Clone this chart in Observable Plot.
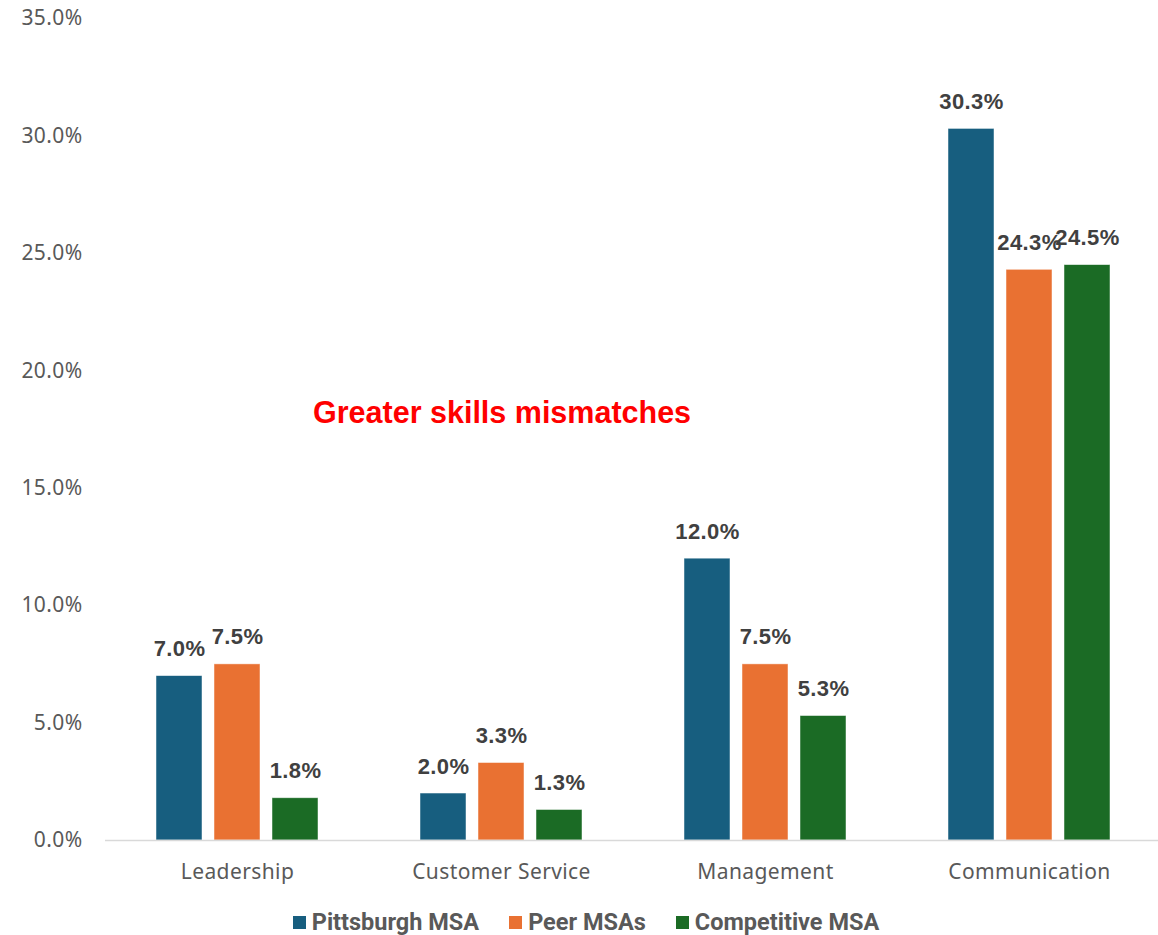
<!DOCTYPE html>
<html>
<head>
<meta charset="utf-8">
<script src="https://cdn.jsdelivr.net/npm/d3@7"></script>
<script src="https://cdn.jsdelivr.net/npm/@observablehq/plot@0.6"></script>
<style>
  html, body { margin: 0; padding: 0; background: #fff; }
  #wrap { position: relative; width: 1158px; height: 935px; overflow: hidden; }
  #note { position: absolute; left: 313px; top: 395px; font: bold 30.5px "Liberation Sans", Arial, sans-serif; color: #ff0000; white-space: nowrap; }
  #legend { position: absolute; left: 0; width: 1158px; top: 908px; display: flex; justify-content: center; gap: 30px; font: bold 23.5px "Roboto", "Liberation Sans", sans-serif; color: #595959; padding-left: 14px; box-sizing: border-box; }
  #legend .item { display: flex; align-items: center; gap: 6px; }
  #legend .sw { width: 13px; height: 13px; display: inline-block; }
</style>
</head>
<body>
<div id="wrap">
  <div id="chart"></div>
  <div id="note">Greater skills mismatches</div>
  <div id="legend"></div>
</div>
<script>
const categories = ["Leadership", "Customer Service", "Management", "Communication"];
const seriesNames = ["Pittsburgh MSA", "Peer MSAs", "Competitive MSA"];
const colors = ["#175E7F", "#E97132", "#1B6B25"];
const pittsburgh = [0.070, 0.020, 0.120, 0.303];
const peer = [0.075, 0.033, 0.075, 0.243];
const competitive = [0.018, 0.013, 0.053, 0.245];
const yTicks = [0, 0.05, 0.10, 0.15, 0.20, 0.25, 0.30, 0.35];

const seriesValues = [pittsburgh, peer, competitive];
const data = [];
categories.forEach((c, i) => {
  seriesNames.forEach((s, j) => data.push({category: c, series: s, value: seriesValues[j][i]}));
});

const chart = Plot.plot({
  width: 1158,
  height: 895,
  marginLeft: 105,
  marginRight: -3,
  marginTop: 18,
  marginBottom: 55,
  style: { fontFamily: "'Noto Sans', 'Open Sans', sans-serif", fontSize: "21px", color: "#595959", background: "transparent", overflow: "visible", letterSpacing: "0.4px" },
  fx: { domain: categories, padding: 0, label: null, axis: "bottom", tickSize: 0, tickPadding: 24 },
  x: { domain: seriesNames, paddingInner: 0.214, paddingOuter: 0.857, axis: null },
  y: { domain: [0, 0.35], ticks: yTicks, tickFormat: d3.format(".1%"), tickSize: 0, tickPadding: 23, label: null, axis: "left" },
  color: { domain: seriesNames, range: colors },
  marks: [
    Plot.barY(data, { fx: "category", x: "series", y: "value", fill: "series", stroke: "#ffffff", strokeWidth: 0.8, strokeOpacity: 0.6 }),
    Plot.ruleY([0], { stroke: "#d9d9d9", strokeWidth: 1.5 }),
    Plot.text(data, { fx: "category", x: "series", y: "value", text: d => d3.format(".1%")(d.value), dy: -27, fill: "#404040", fontWeight: "bold", fontSize: 22, fontFamily: "'Liberation Sans', Arial, sans-serif" })
  ]
});
document.getElementById("chart").appendChild(chart);

const legend = document.getElementById("legend");
seriesNames.forEach((s, i) => {
  const item = document.createElement("div");
  item.className = "item";
  const sw = document.createElement("span");
  sw.className = "sw";
  sw.style.background = colors[i];
  const t = document.createElement("span");
  t.textContent = s;
  item.appendChild(sw); item.appendChild(t);
  legend.appendChild(item);
});
</script>
</body>
</html>
